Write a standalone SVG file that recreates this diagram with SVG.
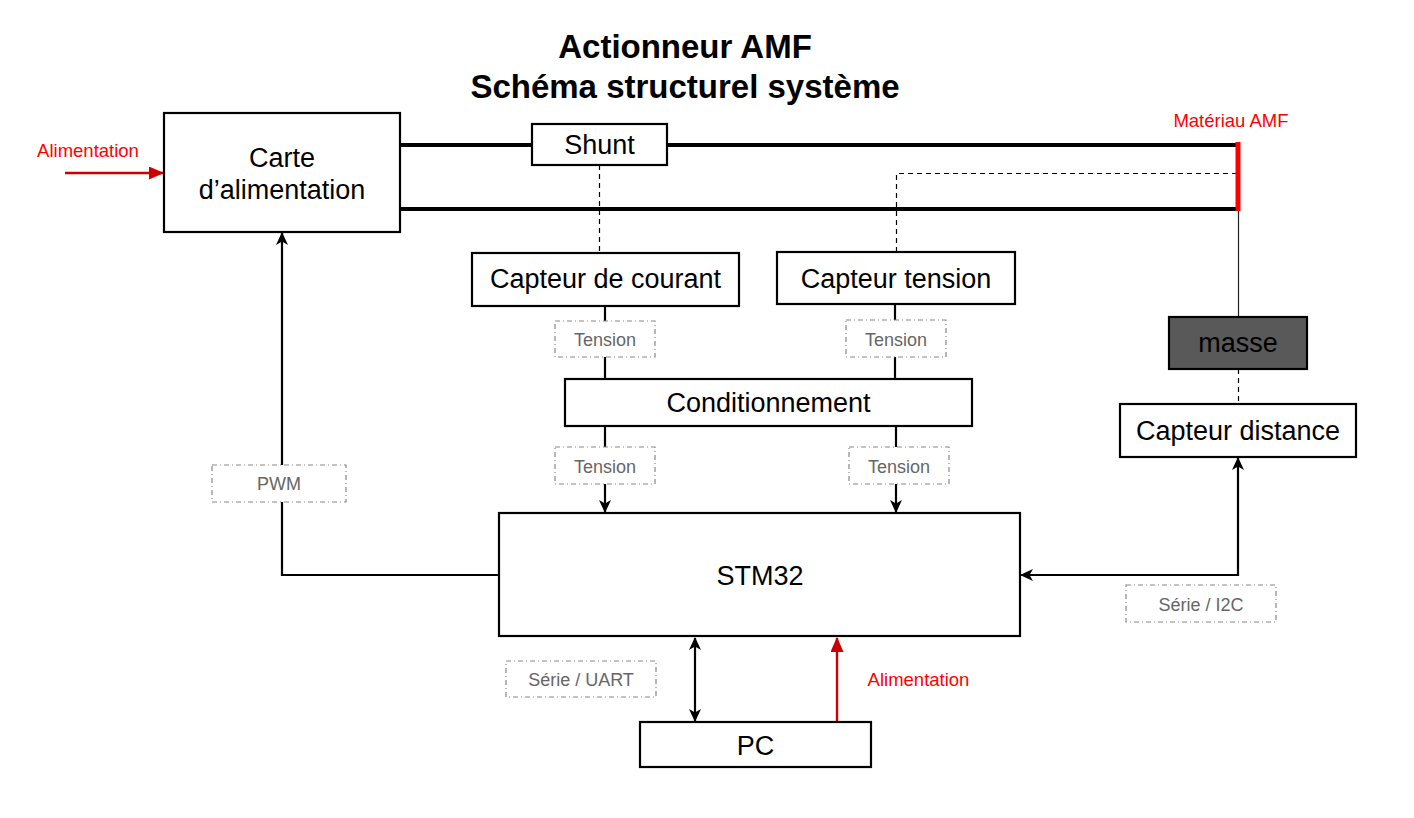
<svg xmlns="http://www.w3.org/2000/svg" width="1414" height="818" viewBox="0 0 1414 818">
<style>
text{font-family:"Liberation Sans",Arial,Helvetica,sans-serif;text-anchor:middle}
.node{fill:#fff;stroke:#000;stroke-width:2.2}
.nt{font-size:27px;fill:#000}
.title{font-size:33px;font-weight:bold;fill:#000}
.lbl{fill:#fff;stroke:#888;stroke-width:1.2;stroke-dasharray:5 3 1 3}
.lt{font-size:18px;fill:#666}
.red{font-size:18.5px;fill:#ff0000}
.wire{stroke:#000;stroke-width:4;fill:none}
.conn{stroke:#000;stroke-width:2.2;fill:none}
.dash{stroke:#000;stroke-width:1.2;fill:none;stroke-dasharray:5 4}
</style>
<defs>
<marker id="arr" viewBox="0 0 13 12" refX="12" refY="6" markerWidth="13" markerHeight="12" markerUnits="userSpaceOnUse" orient="auto-start-reverse">
<path d="M0,0 L13,6 L0,12 L3.5,6 z" fill="#000"/>
</marker>
<marker id="rarr" viewBox="0 0 15 13" refX="14" refY="6.5" markerWidth="15" markerHeight="13" markerUnits="userSpaceOnUse" orient="auto">
<path d="M0,0 L15,6.5 L0,13 z" fill="#cc0000"/>
</marker>
</defs>
<rect width="1414" height="818" fill="#fff"/>

<g id="title">
<text class="title" x="685" y="58">Actionneur AMF</text>
<text class="title" x="685" y="98">Schéma structurel système</text>
</g>

<g id="connectors">
<line class="wire" x1="400" y1="145" x2="532" y2="145"/>
<line class="wire" x1="667" y1="145" x2="1238" y2="145"/>
<line class="wire" x1="400" y1="209" x2="1238" y2="209"/>
<line x1="1238.5" y1="211" x2="1238.5" y2="317" stroke="#222" stroke-width="1.2"/>
<line class="dash" x1="599.5" y1="165" x2="599.5" y2="253"/>
<path class="dash" d="M896.5,252 V173.5 H1236"/>
<line class="dash" x1="1238.5" y1="369" x2="1238.5" y2="404"/>
<line class="conn" x1="605" y1="306" x2="605" y2="379"/>
<line class="conn" x1="895" y1="304" x2="895" y2="379"/>
<line class="conn" x1="605" y1="426" x2="605" y2="512" marker-end="url(#arr)"/>
<line class="conn" x1="896" y1="426" x2="896" y2="512" marker-end="url(#arr)"/>
<path class="conn" d="M499,575 H282 V233" marker-end="url(#arr)"/>
<path class="conn" d="M1238,458 V575 H1021" marker-start="url(#arr)" marker-end="url(#arr)"/>
<line class="conn" x1="695" y1="638" x2="695" y2="721" marker-start="url(#arr)" marker-end="url(#arr)"/>
<line x1="837" y1="722" x2="837" y2="638" stroke="#cc0000" stroke-width="2.4" marker-end="url(#rarr)"/>
<line x1="65" y1="173" x2="163" y2="173" stroke="#cc0000" stroke-width="2.4" marker-end="url(#rarr)"/>
<line x1="1238" y1="142" x2="1238" y2="211" stroke="#ff0000" stroke-width="5"/>
</g>

<g id="carte">
<rect class="node" x="164" y="113" width="236" height="119"/>
<text class="nt" x="282" y="167">Carte</text>
<text class="nt" x="282" y="199">d’alimentation</text>
</g>
<g id="shunt">
<rect class="node" x="532" y="124" width="135" height="41"/>
<text class="nt" x="599.5" y="154">Shunt</text>
</g>
<g id="capteur-courant">
<rect class="node" x="472" y="253" width="267" height="53"/>
<text class="nt" x="605.5" y="288">Capteur de courant</text>
</g>
<g id="capteur-tension">
<rect class="node" x="777" y="252" width="238" height="52"/>
<text class="nt" x="896" y="288">Capteur tension</text>
</g>
<g id="conditionnement">
<rect class="node" x="565" y="379" width="407" height="47"/>
<text class="nt" x="768.5" y="412">Conditionnement</text>
</g>
<g id="masse">
<rect x="1169" y="317" width="138" height="52" fill="#595959" stroke="#000" stroke-width="2.2"/>
<text class="nt" x="1238" y="352">masse</text>
</g>
<g id="capteur-distance">
<rect class="node" x="1120" y="404" width="236" height="53"/>
<text class="nt" x="1238" y="440">Capteur distance</text>
</g>
<g id="stm32">
<rect class="node" x="499" y="513" width="521" height="123"/>
<text class="nt" x="760" y="585">STM32</text>
</g>
<g id="pc">
<rect class="node" x="640" y="722" width="231" height="45"/>
<text class="nt" x="755.5" y="755">PC</text>
</g>
<g id="materiau-amf">
<text class="red" x="1231" y="127">Matériau AMF</text>
</g>
<g id="alim-labels">
<text class="red" x="88" y="157">Alimentation</text>
<text class="red" x="918.5" y="686">Alimentation</text>
</g>

<g id="labels">
<rect class="lbl" x="555" y="321" width="100" height="36"/>
<text class="lt" x="605" y="346">Tension</text>
<rect class="lbl" x="846" y="320" width="100" height="37"/>
<text class="lt" x="896" y="346">Tension</text>
<rect class="lbl" x="555" y="447" width="100" height="37"/>
<text class="lt" x="605" y="473">Tension</text>
<rect class="lbl" x="849" y="447" width="100" height="37"/>
<text class="lt" x="899" y="473">Tension</text>
<rect class="lbl" x="212" y="465" width="134" height="37"/>
<text class="lt" x="279" y="490">PWM</text>
<rect class="lbl" x="1126" y="585" width="150" height="37"/>
<text class="lt" x="1201" y="611">Série / I2C</text>
<rect class="lbl" x="506" y="661" width="150" height="36"/>
<text class="lt" x="581" y="686">Série / UART</text>
</g>
</svg>
